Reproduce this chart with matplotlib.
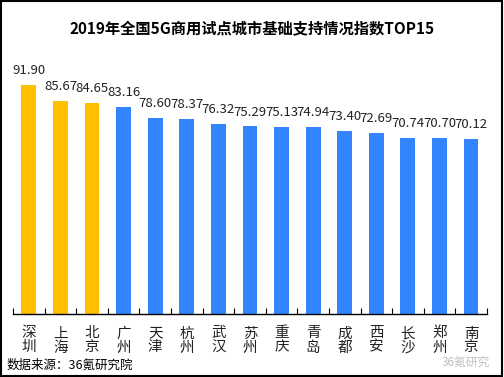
import numpy as np
import matplotlib
matplotlib.use('Agg')
import matplotlib.pyplot as plt

plt.rcParams['font.family'] = ['Noto Sans CJK SC', 'DejaVu Sans']

# data
cities = ['深圳', '上海', '北京', '广州', '天津', '杭州', '武汉', '苏州',
          '重庆', '青岛', '成都', '西安', '长沙', '郑州', '南京']
scores = [91.90, 85.67, 84.65, 83.16, 78.60, 78.37, 76.32, 75.29,
          75.13, 74.94, 73.40, 72.69, 70.74, 70.70, 70.12]
n_gold = 3

gold = '#FFC000'
blue = '#3385FF'
colors = [gold] * n_gold + [blue] * (len(cities) - n_gold)

fig = plt.figure(figsize=(5.04, 3.77), dpi=100)
ax = fig.add_axes([0.026, 0.167, 0.94, 0.674])

x = np.arange(len(cities))
ax.bar(x, scores, width=0.47, color=colors)
for xi, v in zip(x, scores):
    ax.text(xi, v + 3.2, '%.2f' % v, ha='center', va='bottom', fontsize=9.5,
            color='#222222')

ax.set_xlim(-0.5, len(cities) - 0.5)
ax.set_ylim(0, 102)
ax.set_yticks([])
for s in ['top', 'right', 'left']:
    ax.spines[s].set_visible(False)
ax.spines['bottom'].set_linewidth(1.0)

# ticks between categories, pointing up
ax.set_xticks(np.arange(len(cities) + 1) - 0.5, minor=False)
ax.set_xticklabels([])
ax.tick_params(axis='x', direction='in', length=4, width=0.8)
for xi, c in zip(x, cities):
    ax.text(xi, -5, c[0] + '\n' + c[1], ha='center', va='top', fontsize=10.5,
            linespacing=1.0, color='#222222', transform=ax.transData)

fig.text(0.5, 0.923, '2019年全国5G商用试点城市基础支持情况指数TOP15',
         ha='center', va='center', fontsize=11, fontweight='bold')
fig.text(0.012, 0.03, '数据来源：36氪研究院', ha='left', va='center', fontsize=9)
# faint watermark
fig.text(0.972, 0.04, '36氪研究', ha='right', va='center', fontsize=8.5,
         color='#c0c0c0')

# border around figure
fig.patches.append(plt.Rectangle((0.002, 0.003), 0.994, 0.994, fill=False,
                                 edgecolor='black', linewidth=1.5,
                                 transform=fig.transFigure, figure=fig))

fig.savefig('out.png', dpi=100)
